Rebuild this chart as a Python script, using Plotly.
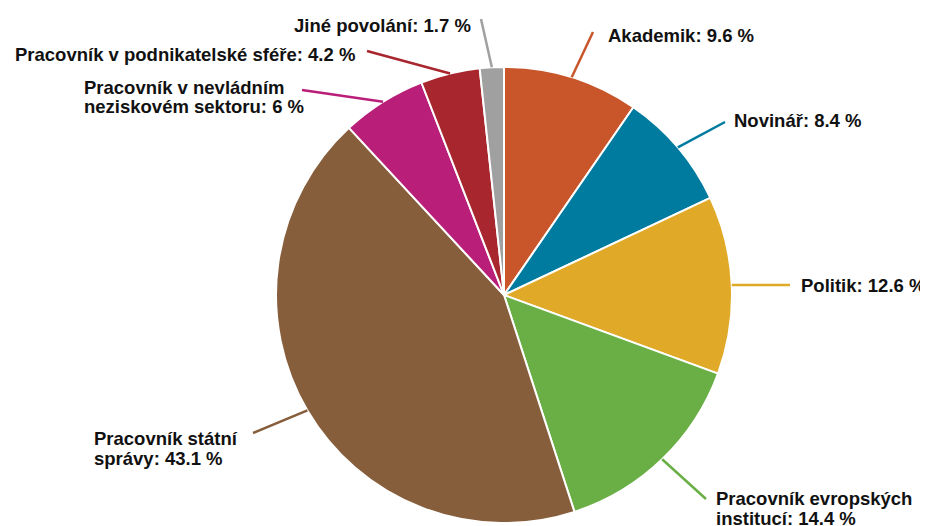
import math
import plotly.graph_objects as go

# page has an 8px body margin, figure starts at (8, 8) on screen
OFF = 8
W, H = 928 - OFF, 526 - OFF

labels = ['Akademik', 'Novinář', 'Politik', 'Pracovník evropských institucí',
          'Pracovník státní správy', 'Pracovník v nevládním neziskovém sektoru',
          'Pracovník v podnikatelské sféře', 'Jiné povolání']
values = [9.6, 8.4, 12.6, 14.4, 43.1, 6, 4.2, 1.7]
colors = ['#C8562A', '#007BA0', '#E0AA28', '#6AAF46',
          '#865E3C', '#B91F78', '#A8272F', '#A0A0A0']
text_lines = [['Akademik: 9.6 %'], ['Novinář: 8.4 %'], ['Politik: 12.6 %'],
              ['Pracovník evropských', 'institucí: 14.4 %'],
              ['Pracovník státní', 'správy: 43.1 %'],
              ['Pracovník v nevládním', 'neziskovém sektoru: 6 %'],
              ['Pracovník v podnikatelské sféře: 4.2 %'],
              ['Jiné povolání: 1.7 %']]

# pie placement in screen pixels
cx, cy, R = 504, 295, 228
FONT = 18.5
LINE_H = 20

# label layout (screen px): leader end, first-line text anchor, xanchor
label_layout = [
    ((593, 32), (606, 35), 'left'),
    ((725, 122), (732, 120), 'left'),
    ((790, 285), (799, 285), 'left'),
    ((706, 499), (714, 498), 'left'),
    ((253, 433), (92, 438), 'left'),
    ((302, 90), (82, 87), 'left'),
    ((367, 51), (357, 54), 'right'),
    ((481, 19), (473, 25), 'right'),
]


def px(x):
    return (x - OFF) / W


def py(y):
    return 1 - (y - OFF) / H


fig = go.Figure()
fig.add_trace(go.Pie(
    labels=labels, values=values, sort=False, direction='clockwise',
    rotation=0, textinfo='none', hoverinfo='label+percent',
    marker=dict(colors=colors, line=dict(color='white', width=2)),
    domain=dict(x=[px(cx - R), px(cx + R)], y=[py(cy + R), py(cy - R)]),
    showlegend=False
))

# leader lines start on the pie edge at each slice's mid angle
total = sum(values)
cum = 0
shapes = []
annotations = []
for v, c, lines, (end, anchor, xa) in zip(values, colors, text_lines, label_layout):
    mid = (cum + v / 2) / total * 2 * math.pi
    cum += v
    sx = cx + R * math.sin(mid)
    sy = cy - R * math.cos(mid)
    shapes.append(dict(type='line', xref='paper', yref='paper',
                       x0=px(sx), y0=py(sy), x1=px(end[0]), y1=py(end[1]),
                       line=dict(color=c, width=2.5)))
    for i, t in enumerate(lines):
        annotations.append(dict(text='<b>' + t + '</b>', xref='paper', yref='paper',
                                x=px(anchor[0]), y=py(anchor[1] + i * LINE_H),
                                xanchor=xa, yanchor='middle', align='left',
                                showarrow=False,
                                font=dict(family='Liberation Sans', size=FONT,
                                          color='#111111')))

fig.update_layout(
    width=W, height=H,
    margin=dict(l=0, r=0, t=0, b=0),
    paper_bgcolor='white', plot_bgcolor='white',
    shapes=shapes, annotations=annotations,
    font=dict(family='Liberation Sans', size=FONT)
)

fig.write_html("out.html")
